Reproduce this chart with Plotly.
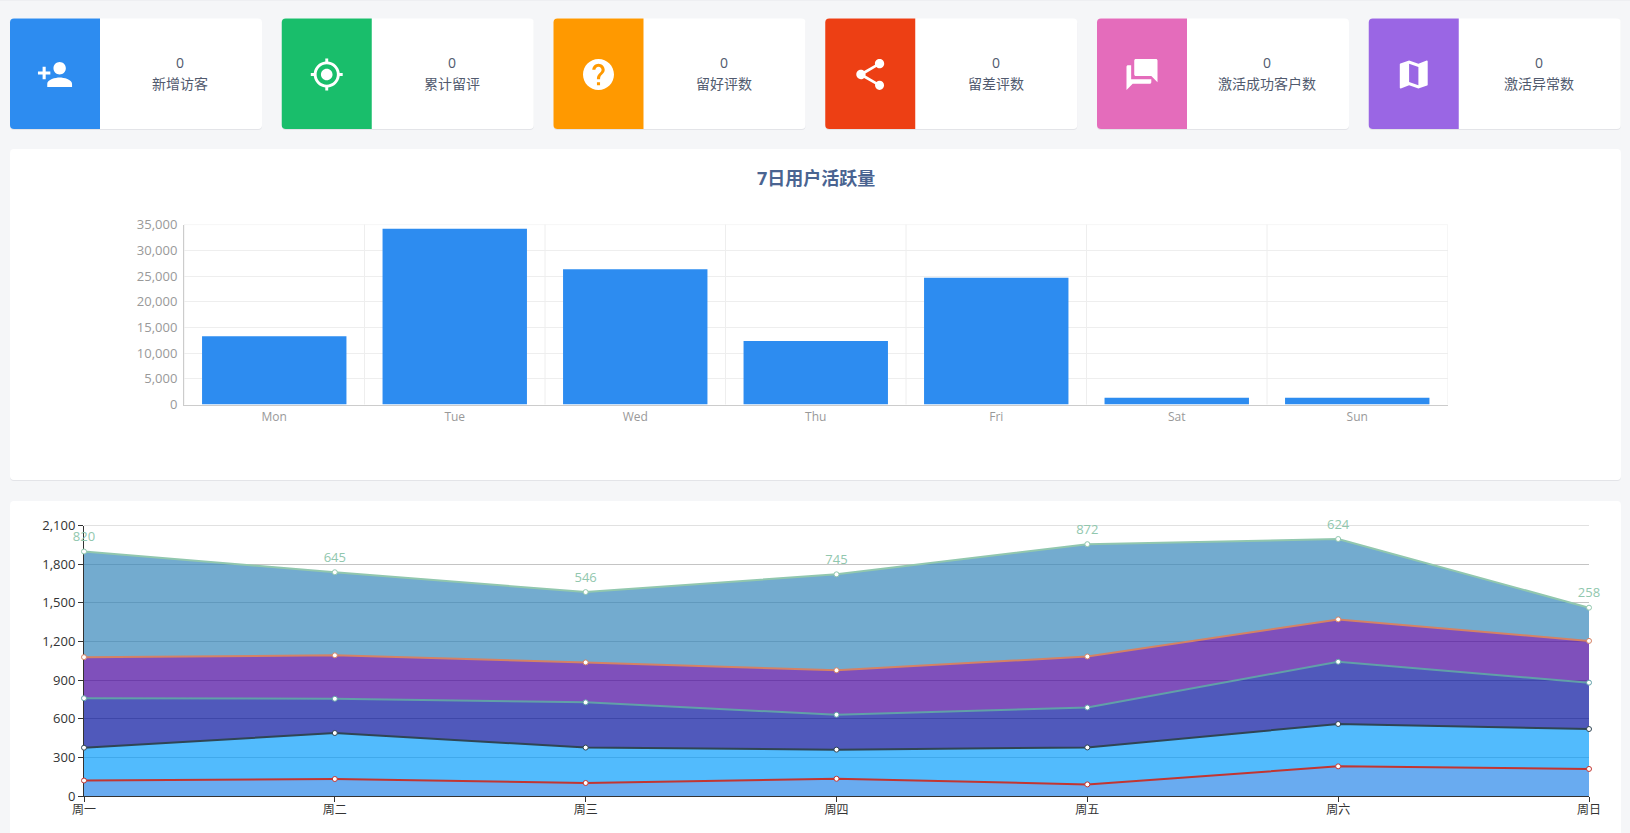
import re
import plotly.graph_objects as go

W, H = 1630, 833
FONT = "Open Sans, Noto Sans CJK SC"

# ---- data ----
card_labels = ["新增访客", "累计留评", "留好评数", "留差评数", "激活成功客户数", "激活异常数"]
card_values = [0, 0, 0, 0, 0, 0]
card_colors = ["#2d8cf0", "#19be6b", "#ff9900", "#ed3f14", "#e46cbb", "#9a66e4"]

bar_title = "7日用户活跃量"
bar_days = ["Mon", "Tue", "Wed", "Thu", "Fri", "Sat", "Sun"]
bar_values = [13300, 34190, 26300, 12340, 24680, 1300, 1300]

area_days = ["周一", "周二", "周三", "周四", "周五", "周六", "周日"]
s1 = [120, 132, 101, 134, 90, 230, 210]
s2 = [255, 357, 275, 226, 287, 329, 310]
s3 = [384, 266, 351, 271, 310, 483, 360]
s4 = [319, 337, 310, 345, 396, 329, 324]
s5 = [820, 645, 546, 745, 872, 624, 258]
area_series = [s1, s2, s3, s4, s5]
line_colors = ["#c23531", "#2f4554", "#61a0a8", "#d48265", "#91c7ae"]
fill_colors = ["rgba(42,135,234,0.7)", "rgba(9,158,252,0.7)", "rgba(6,19,158,0.7)",
               "rgba(72,5,158,0.7)", "rgba(56,136,187,0.7)"]

# Material icon outlines, 24-unit grid, with flip flag and drawing scale
ICONS = [
    ("M15 12c2.21 0 4-1.79 4-4s-1.79-4-4-4-4 1.79-4 4 1.79 4 4 4zm-9-2V7H4v3H1v2h3v3h2v-3h3v-2H6zm9 4c-2.67 0-8 1.34-8 4v2h16v-2c0-2.66-5.33-4-8-4z", False, 1.55),
    ("M12 8c-2.21 0-4 1.79-4 4s1.79 4 4 4 4-1.79 4-4-1.79-4-4-4zm8.94 3c-.46-4.17-3.77-7.48-7.94-7.94V1h-2v2.06C6.83 3.52 3.52 6.83 3.06 11H1v2h2.06c.46 4.17 3.77 7.48 7.94 7.94V23h2v-2.06c4.17-.46 7.48-3.77 7.94-7.94H23v-2h-2.06zM12 19c-3.87 0-7-3.13-7-7s3.13-7 7-7 7 3.13 7 7-3.13 7-7 7z", False, 1.45),
    ("M12 2C6.48 2 2 6.48 2 12s4.48 10 10 10 10-4.48 10-10S17.52 2 12 2zm1 17h-2v-2h2v2zm2.07-7.75l-.9.92C13.45 12.9 13 13.5 13 15h-2v-.5c0-1.1.45-2.1 1.17-2.83l1.24-1.26c.37-.36.59-.86.59-1.41 0-1.1-.9-2-2-2s-2 .9-2 2H8c0-2.21 1.79-4 4-4s4 1.79 4 4c0 .88-.36 1.68-.93 2.25z", False, 1.55),
    ("M18 16.08c-.76 0-1.44.3-1.96.77L8.91 12.7c.05-.23.09-.46.09-.7s-.04-.47-.09-.7l7.05-4.11c.54.5 1.25.81 2.04.81 1.66 0 3-1.34 3-3s-1.34-3-3-3-3 1.34-3 3c0 .24.04.47.09.7L8.04 9.81C7.5 9.31 6.79 9 6 9c-1.66 0-3 1.34-3 3s1.34 3 3 3c.79 0 1.5-.31 2.04-.81l7.12 4.16c-.05.21-.08.43-.08.65 0 1.61 1.31 2.92 2.92 2.92s2.92-1.31 2.92-2.92-1.31-2.92-2.92-2.92z", False, 1.55),
    ("M21 6h-2v9H6v2c0 .55.45 1 1 1h11l4 4V7c0-.55-.45-1-1-1zm-4 6V3c0-.55-.45-1-1-1H3c-.55 0-1 .45-1 1v14l4-4h10c.55 0 1-.45 1-1z", True, 1.55),
    ("M20.5 3l-.16.03L15 5.1 9 3 3.36 4.9c-.21.07-.36.25-.36.48V20.5c0 .28.22.5.5.5l.16-.03L9 18.9l6 2.1 5.64-1.9c.21-.07.36-.25.36-.48V3.5c0-.28-.22-.5-.5-.5zM15 19l-6-2.11V5l6 2.11V19z", False, 1.55),
]


# ---- pixel helpers ----
def px(x):
    return x / W


def py(y):
    return 1 - y / H


def fmt(x, y):
    return f"{px(x):.6f},{py(y):.6f}"


def rrect(x0, y0, x1, y1, tl=4, tr=4, br=4, bl=4):
    return (f"M{fmt(x0 + tl, y0)} L{fmt(x1 - tr, y0)} Q{fmt(x1, y0)} {fmt(x1, y0 + tr)} "
            f"L{fmt(x1, y1 - br)} Q{fmt(x1, y1)} {fmt(x1 - br, y1)} "
            f"L{fmt(x0 + bl, y1)} Q{fmt(x0, y1)} {fmt(x0, y1 - bl)} "
            f"L{fmt(x0, y0 + tl)} Q{fmt(x0, y0)} {fmt(x0 + tl, y0)} Z")


def icon_path(d, cx, cy, s, flip):
    tok = re.findall(r"[MmLlHhVvCcSsZz]|-?\d*\.?\d+", d)
    i, cmd, x, y, sx, sy = 0, None, 0.0, 0.0, 0.0, 0.0
    lx2, ly2 = 0.0, 0.0
    out = []

    def T(a, b):
        a2 = 24 - a if flip else a
        return fmt(cx + (a2 - 12) * s, cy + (b - 12) * s)

    def num():
        nonlocal i
        v = float(tok[i])
        i += 1
        return v

    while i < len(tok):
        if re.fullmatch(r"[A-Za-z]", tok[i]):
            cmd = tok[i]
            i += 1
            if cmd in "Zz":
                out.append("Z")
                x, y = sx, sy
                continue
        rel = cmd.islower()
        c = cmd.upper()
        bx, by = (x, y) if rel else (0.0, 0.0)
        if c == "M":
            x, y = bx + num(), by + num()
            sx, sy = x, y
            out.append("M" + T(x, y))
            cmd = "l" if rel else "L"
            lx2, ly2 = x, y
        elif c == "L":
            x, y = bx + num(), by + num()
            out.append("L" + T(x, y))
            lx2, ly2 = x, y
        elif c == "H":
            x = bx + num()
            out.append("L" + T(x, y))
            lx2, ly2 = x, y
        elif c == "V":
            y = by + num()
            out.append("L" + T(x, y))
            lx2, ly2 = x, y
        elif c == "C":
            a, b, e, f, g, h = bx + num(), by + num(), bx + num(), by + num(), bx + num(), by + num()
            out.append(f"C{T(a, b)} {T(e, f)} {T(g, h)}")
            lx2, ly2, x, y = e, f, g, h
        elif c == "S":
            a, b = 2 * x - lx2, 2 * y - ly2
            e, f, g, h = bx + num(), by + num(), bx + num(), by + num()
            out.append(f"C{T(a, b)} {T(e, f)} {T(g, h)}")
            lx2, ly2, x, y = e, f, g, h
    return " ".join(out)


shapes, annotations = [], []


def panel(x0, y0, x1, y1):
    # soft bottom edge, then the white panel
    shapes.append(dict(type="path", xref="paper", yref="paper", layer="below",
                       path=rrect(x0, y0 + 1, x1, y1 + 1), fillcolor="#e3e4e8", line_width=0))
    shapes.append(dict(type="path", xref="paper", yref="paper", layer="below",
                       path=rrect(x0, y0, x1, y1), fillcolor="#ffffff", line_width=0))


shapes.append(dict(type="rect", xref="paper", yref="paper", layer="below",
                   x0=0, x1=1, y0=py(1), y1=1, fillcolor="#eeeff2", line_width=0))

# ---- stat cards ----
CARD_W, CARD_PITCH, CARD_X0, CARD_TOP, CARD_BOT, STRIP = 252, 271.75, 10, 18.5, 129, 90
for k, (lab, val, col, (d, flip, scale)) in enumerate(zip(card_labels, card_values, card_colors, ICONS)):
    x0 = CARD_X0 + k * CARD_PITCH
    x1 = x0 + CARD_W
    panel(x0, CARD_TOP, x1, CARD_BOT)
    shapes.append(dict(type="path", xref="paper", yref="paper", layer="below",
                       path=rrect(x0, CARD_TOP, x0 + STRIP, CARD_BOT, 4, 0.01, 0.01, 4),
                       fillcolor=col, line_width=0))
    shapes.append(dict(type="path", xref="paper", yref="paper", layer="below",
                       path=icon_path(d, x0 + STRIP / 2, 74.5, scale, flip),
                       fillcolor="#ffffff", line_width=0))
    cx = x0 + STRIP + (CARD_W - STRIP) / 2 - 0.7
    annotations.append(dict(x=px(cx), y=py(62.7), xref="paper", yref="paper", text=str(val),
                            xanchor="center", yanchor="middle", showarrow=False,
                            font=dict(size=14, color="#515a6e", family=FONT)))
    annotations.append(dict(x=px(cx), y=py(83.7), xref="paper", yref="paper", text=lab,
                            xanchor="center", yanchor="middle", showarrow=False,
                            font=dict(size=14, color="#515a6e", family=FONT)))

# ---- panels ----
panel(10, 149, 1621, 480)
panel(10, 501, 1621, 850)

annotations.append(dict(x=px(815.5), y=py(177.5), xref="paper", yref="paper", text=f"<b>{bar_title}</b>",
                        xanchor="center", yanchor="middle", showarrow=False,
                        font=dict(size=18, color="#4a6491", family=FONT)))

fig = go.Figure()

# ---- bar chart ----
fig.add_trace(go.Bar(x=bar_days, y=bar_values, width=0.8, marker=dict(color="#2d8cf0", line_width=0),
                     xaxis="x", yaxis="y", hoverinfo="x+y"))
for i in range(len(bar_days) + 1):
    shapes.append(dict(type="line", xref="x", yref="y domain", x0=i - 0.5, x1=i - 0.5, y0=0, y1=1,
                       layer="below", line=dict(color="#eeeeee", width=1)))
shapes.append(dict(type="line", xref="x domain", yref="y", x0=0, x1=1, y0=35000, y1=35000,
                   layer="below", line=dict(color="#eeeeee", width=1)))

# ---- stacked area chart ----
shapes.append(dict(type="line", xref="x2 domain", yref="y2", x0=0, x1=1, y0=2100, y1=2100,
                   layer="below", line=dict(color="#c4c4c4", width=1)))
for vals, lc, fc in zip(area_series, line_colors, fill_colors):
    fig.add_trace(go.Scatter(
        x=area_days, y=vals, xaxis="x2", yaxis="y2", stackgroup="one", cliponaxis=False,
        mode="lines+markers",
        line=dict(color=lc, width=2), fillcolor=fc,
        marker=dict(size=5, color="#ffffff", line=dict(color=lc, width=1)),
    ))

# value labels of the top series sit at the top of the stack
stack_top = [sum(v) for v in zip(*area_series)]
fig.add_trace(go.Scatter(
    x=area_days, y=stack_top, xaxis="x2", yaxis="y2", cliponaxis=False, mode="markers+text",
    text=[str(v) for v in s5], textposition="top center",
    textfont=dict(size=13, color=line_colors[4], family=FONT),
    marker=dict(size=10, opacity=0), hoverinfo="skip",
))

fig.update_layout(
    template="none",
    width=W, height=H, autosize=False, margin=dict(l=0, r=0, t=0, b=0, pad=0),
    paper_bgcolor="#f5f6f8", plot_bgcolor="rgba(0,0,0,0)", showlegend=False,
    font=dict(family=FONT, size=12), shapes=shapes, annotations=annotations,
    xaxis=dict(domain=[px(184), px(1447.5)], anchor="y", type="category", range=[-0.5, 6.5], automargin=False,
               showgrid=False, ticks="", showline=True, linecolor="#cccccc", linewidth=1, zeroline=False,
               ticklabelstandoff=1,
               tickfont=dict(size=12, color="#999999", family=FONT), fixedrange=True),
    yaxis=dict(domain=[py(404.5), py(224.6)], anchor="x", range=[0, 35000], dtick=5000, tickformat=",d", automargin=False,
               showgrid=True, gridcolor="#eeeeee", gridwidth=1, zeroline=False, ticks="",
               showline=True, linecolor="#cccccc", linewidth=1, ticklabelstandoff=3,
               tickfont=dict(size=13, color="#999999", family=FONT), fixedrange=True),
    xaxis2=dict(domain=[px(84), px(1589)], anchor="y2", type="category", range=[0, 6], automargin=False,
                showgrid=False, ticks="outside", ticklen=5, tickcolor="#333333", zeroline=False,
                showline=True, linecolor="#333333", linewidth=1, layer="below traces", ticklabelstandoff=-2,
                tickfont=dict(size=12, color="#333333", family=FONT), fixedrange=True),
    yaxis2=dict(domain=[py(796), py(525.5)], anchor="x2", range=[0, 2100], dtick=300, tickformat=",d", automargin=False,
                showgrid=True, gridcolor="#c4c4c4", gridwidth=1, zeroline=False,
                ticks="outside", ticklen=5, tickcolor="#333333",
                showline=True, linecolor="#333333", linewidth=1, layer="below traces",
                tickfont=dict(size=13, color="#333333", family=FONT), fixedrange=True),
)

fig.write_html("out.html", config={"displayModeBar": False},
               post_script="document.body.style.margin='0';document.body.style.overflow='hidden';")
